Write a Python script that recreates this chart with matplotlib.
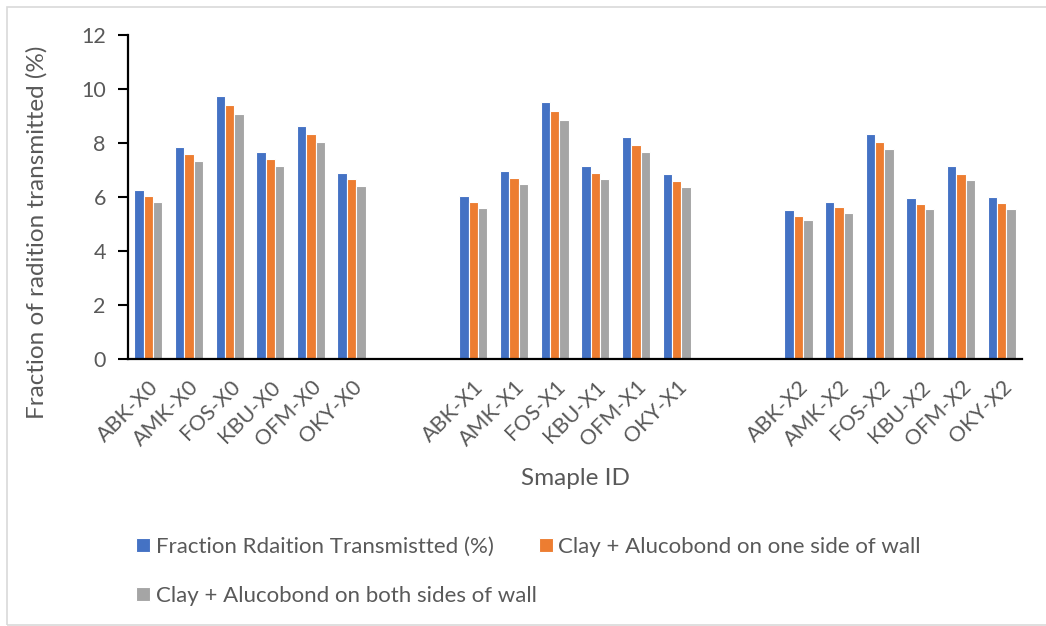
import matplotlib
matplotlib.use("Agg")
import matplotlib.pyplot as plt
from matplotlib.patches import Rectangle
import numpy as np

plt.rcParams["font.family"] = ["Lato", "DejaVu Sans"]

# Sample IDs, grouped by wall configuration (X0, X1, X2)
samples = ["ABK", "AMK", "FOS", "KBU", "OFM", "OKY"]
suffixes = ["X0", "X1", "X2"]

# Fraction of radiation transmitted (%)
bare = [6.25, 7.84, 9.76, 7.67, 8.62, 6.89,
        6.04, 6.96, 9.51, 7.15, 8.23, 6.84,
        5.52, 5.81, 8.34, 5.96, 7.14, 5.99]
one_side = [6.04, 7.58, 9.40, 7.42, 8.33, 6.66,
            5.81, 6.71, 9.18, 6.89, 7.93, 6.59,
            5.30, 5.62, 8.05, 5.75, 6.87, 5.78]
both_sides = [5.81, 7.32, 9.09, 7.16, 8.03, 6.42,
              5.60, 6.47, 8.87, 6.66, 7.66, 6.37,
              5.14, 5.42, 7.77, 5.55, 6.63, 5.55]

series_names = ["Fraction Rdaition Transmistted (%)",
                "Clay + Alucobond on one side of wall",
                "Clay + Alucobond on both sides of wall"]
colors = ["#4472C4", "#ED7D31", "#A5A5A5"]
text_color = "#595959"

labels = [f"{s}-{g}" for g in suffixes for s in samples]
gap = 2  # empty category slots between groups
n = len(samples)
pos = np.array([gi * (n + gap) + i for gi in range(len(suffixes)) for i in range(n)], dtype=float)
n_slots = len(suffixes) * n + (len(suffixes) - 1) * gap

fig = plt.figure(figsize=(10.46, 6.26), dpi=100)
ax = fig.add_axes([128 / 1046, 1 - 358.7 / 626, (1022 - 128) / 1046, (358.7 - 35.3) / 626])

w = 0.23
for k, (vals, c, name) in enumerate(zip([bare, one_side, both_sides], colors, series_names)):
    ax.bar(pos + (k - 1) * w, vals, width=w, color=c, edgecolor="white",
           linewidth=0.8, label=name, zorder=2)

ax.set_xlim(-0.5, n_slots - 0.5)
ax.set_ylim(0, 12)
ax.set_yticks(np.arange(0, 13, 2))
ax.tick_params(axis="y", direction="out", length=7, width=1.5, color="black",
               labelsize=15.5, labelcolor=text_color, pad=9)
ax.set_xticks(pos)
ax.set_xticklabels(labels, rotation=45, ha="right", rotation_mode="anchor",
                   fontsize=15.5, color=text_color)
ax.tick_params(axis="x", length=0, pad=13)

for side in ["top", "right"]:
    ax.spines[side].set_visible(False)
for side in ["left", "bottom"]:
    ax.spines[side].set_color("black")
    ax.spines[side].set_linewidth(1.6)

ax.set_ylabel("Fraction of radition transmitted (%)", fontsize=17.5, color=text_color,
              va="center")
ax.yaxis.set_label_coords(-0.102, 0.39)
ax.set_xlabel("Smaple ID", fontsize=17.5, color=text_color, va="center")
ax.xaxis.set_label_coords(0.5, -0.369)

h, l = ax.get_legend_handles_labels()
order = [0, 2, 1]
fig.legend([h[i] for i in order], [l[i] for i in order], ncol=2, frameon=False,
           loc="upper left", bbox_to_anchor=(136 / 1046, 1 - 537 / 626),
           borderpad=0, borderaxespad=0,
           fontsize=16, labelcolor=text_color, handlelength=0.63, handleheight=0.63,
           handletextpad=0.25, labelspacing=1.3, columnspacing=0.1)

# Light chart-area border
fig.patches.append(Rectangle((7 / 1046, 1 / 626), 1.1, 1 - 7 / 626 - 1 / 626,
                             transform=fig.transFigure, fill=False,
                             edgecolor="#D9D9D9", linewidth=1.2))

fig.savefig("out.png", dpi=100)
